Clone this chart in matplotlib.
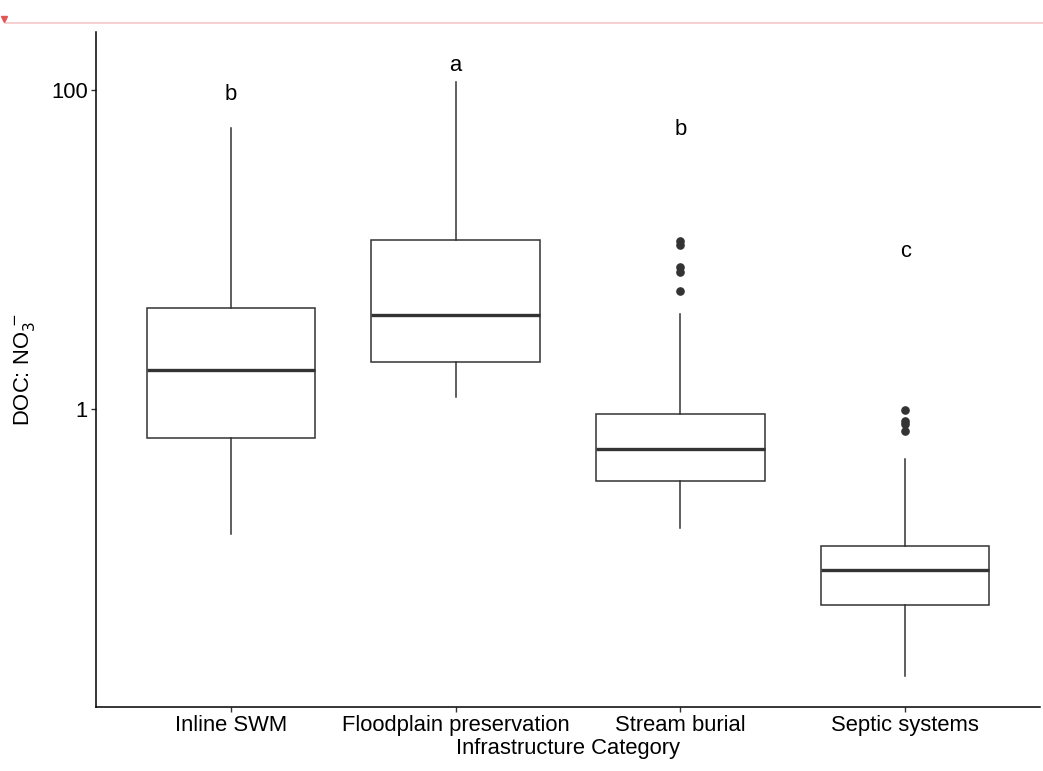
import matplotlib
matplotlib.use("Agg")
import matplotlib.pyplot as plt
from matplotlib.lines import Line2D
import numpy as np

plt.rcParams['font.family'] = ['Liberation Sans', 'DejaVu Sans']

categories = ["Inline SWM", "Floodplain preservation", "Stream burial", "Septic systems"]
whisker_low = [0.164, 1.19, 0.179, 0.0212]
q1 = [0.658, 1.97, 0.354, 0.059]
median = [1.756, 3.88, 0.561, 0.098]
q3 = [4.30, 11.5, 0.93, 0.139]
whisker_high = [57.8, 112.0, 3.94, 0.486]
outliers = [[], [], [11.3, 10.7, 7.77, 7.22, 5.49], [0.986, 0.841, 0.80, 0.731]]
letters = ["b", "a", "b", "c"]
letter_y = [86.5, 130.0, 52.0, 8.9]

fig = plt.figure(figsize=(10.43, 7.71), dpi=100)
ax = fig.add_axes([96/1043, 1 - 707/771, (1040 - 96)/1043, (707 - 32)/771])

stats = []
for i, c in enumerate(categories):
    stats.append(dict(label=c, whislo=whisker_low[i], q1=q1[i], med=median[i],
                      q3=q3[i], whishi=whisker_high[i], fliers=outliers[i]))

pos = np.arange(1, len(categories) + 1)
ec = "#333333"
ax.bxp(stats, positions=pos, widths=0.75, showcaps=False, patch_artist=True,
       boxprops=dict(facecolor="white", edgecolor=ec, linewidth=1.1),
       medianprops=dict(color=ec, linewidth=2.4),
       whiskerprops=dict(color=ec, linewidth=1.1),
       flierprops=dict(marker="o", markerfacecolor=ec, markeredgecolor=ec,
                       markersize=5.2, linestyle="none"))

for i, (l, y) in enumerate(zip(letters, letter_y)):
    ax.text(pos[i], y, l, ha="center", va="baseline", fontsize=15.8, color="black")

ax.set_yscale("log")
ax.set_ylim(10 ** -1.866, 10 ** 2.36)
ax.set_xlim(0.4, 4.6)
ax.set_yticks([1, 100])
ax.set_yticklabels(["1", "100"])
ax.minorticks_off()
ax.set_xticks(pos)
ax.set_xticklabels(categories)
ax.tick_params(axis="both", labelsize=15.8, length=3.5, width=1, color=ec, labelcolor="black", pad=2.5)

for s in ["top", "right"]:
    ax.spines[s].set_visible(False)
for s in ["left", "bottom"]:
    ax.spines[s].set_linewidth(1.1)
    ax.spines[s].set_color("black")

ax.set_xlabel("Infrastructure Category", fontsize=15.8, labelpad=1.5)
ax.set_ylabel("DOC: NO$_3^{\\,-}$", fontsize=15.8, labelpad=10)

# top annotation line and marker
fig.add_artist(Line2D([5/1043, 1.0], [1 - 23/771, 1 - 23/771], transform=fig.transFigure,
                      color="#f6c8c8", linewidth=1.2))
fig.add_artist(Line2D([3.5/1043], [1 - 19/771], transform=fig.transFigure,
                      marker="v", color="#e05555", markersize=5, linestyle="none"))

fig.savefig("out.png", dpi=100)
